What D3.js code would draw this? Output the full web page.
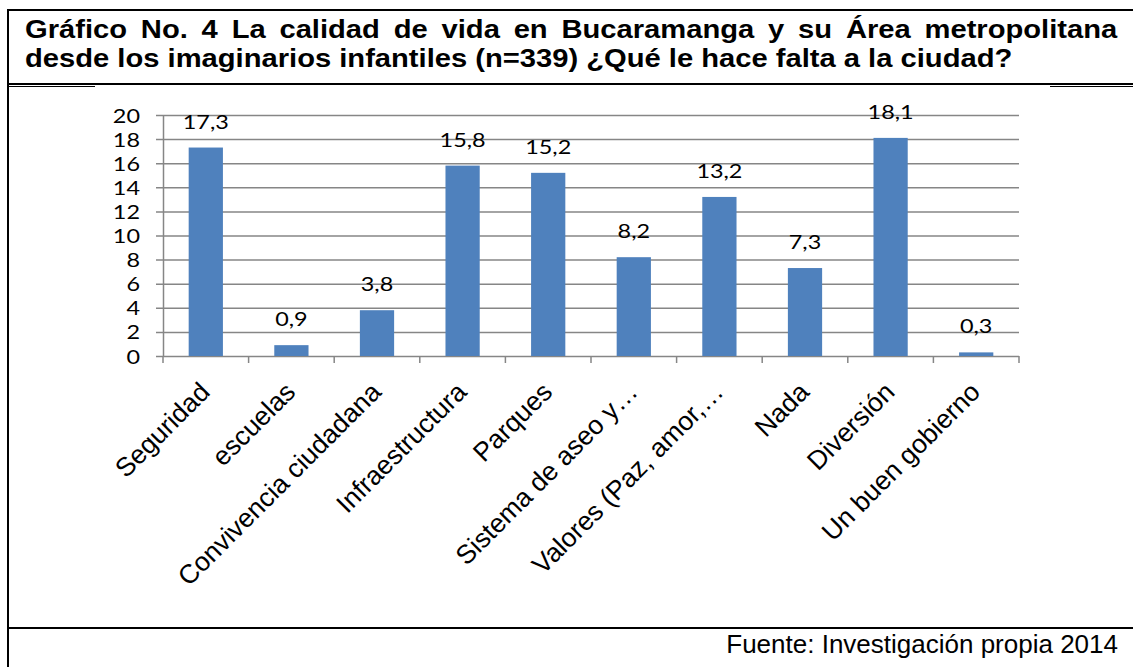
<!DOCTYPE html>
<html>
<head>
<meta charset="utf-8">
<script src="https://cdn.jsdelivr.net/npm/d3@7"></script>
<style>
  body { margin: 0; background: #fff; }
  svg { display: block; }
</style>
</head>
<body>
<div id="chart"></div>
<script>
// DATA
const categories = [
  "Seguridad", "escuelas", "Convivencia ciudadana", "Infraestructura", "Parques",
  "Sistema de aseo y…", "Valores (Paz, amor,…", "Nada", "Diversión", "Un buen gobierno"
];
const values = [17.3, 0.9, 3.8, 15.8, 15.2, 8.2, 13.2, 7.3, 18.1, 0.3];
const yTicks = [0, 2, 4, 6, 8, 10, 12, 14, 16, 18, 20];
const titleLines = [
  "Gráfico No. 4 La calidad de vida en Bucaramanga y su Área metropolitana",
  "desde los imaginarios infantiles (n=339) ¿Qué le hace falta a la ciudad?"
];
const sourceText = "Fuente: Investigación propia 2014";

// LAYOUT
const width = 1133, height = 667;
const plot = { left: 163, right: 1019, top: 115, bottom: 356 };
const numStretch = 1.2; // digits in the picture are wider than tall
const barColor = "#4F81BD", gridColor = "#868686";

const svg = d3.select("#chart").append("svg")
  .attr("width", width)
  .attr("height", height);

svg.append("rect").attr("width", width).attr("height", height).attr("fill", "#fff");

// frame lines
const frame = svg.append("g").attr("stroke", "#000");
frame.append("line").attr("x1", 8).attr("x2", width).attr("y1", 10).attr("y2", 10).attr("stroke-width", 2);
frame.append("line").attr("x1", 8).attr("x2", width).attr("y1", 84).attr("y2", 84).attr("stroke-width", 2);
frame.append("line").attr("x1", 8).attr("x2", 95).attr("y1", 86.5).attr("y2", 86.5).attr("stroke-width", 1);
frame.append("line").attr("x1", 1050).attr("x2", width).attr("y1", 86.5).attr("y2", 86.5).attr("stroke-width", 1);
frame.append("line").attr("x1", 8).attr("x2", width).attr("y1", 628).attr("y2", 628).attr("stroke-width", 2);
frame.append("line").attr("x1", 8).attr("x2", 8).attr("y1", 9).attr("y2", height).attr("stroke-width", 2);

// TITLE (justified first line, both stretched like the picture)
const titleLeft = 25, line1Right = 1118, line2Right = 1013;
const titleG = svg.append("g")
  .attr("font-family", "'Liberation Sans', Arial, sans-serif")
  .attr("font-weight", "bold")
  .attr("font-size", 26)
  .attr("fill", "#000");

const t2 = titleG.append("text").attr("x", 0).attr("y", 0).text(titleLines[1]);
const w2 = t2.node().getComputedTextLength();
const sx = (line2Right - titleLeft) / w2;
t2.attr("transform", `translate(${titleLeft},67) scale(${sx},1)`);

const t1 = titleG.append("text").attr("x", 0).attr("y", 0).text(titleLines[0]);
const w1 = t1.node().getComputedTextLength();
const gaps = titleLines[0].split(" ").length - 1;
const extra = ((line1Right - titleLeft) / sx - w1) / gaps;
t1.attr("word-spacing", extra)
  .attr("transform", `translate(${titleLeft},38) scale(${sx},1)`);

// SCALES
const xScale = d3.scaleBand()
  .domain(categories)
  .range([plot.left, plot.right])
  .paddingInner(0)
  .paddingOuter(0);

const yScale = d3.scaleLinear()
  .domain([0, 20])
  .range([plot.bottom, plot.top]);

const barW = xScale.step() / 2.5;

// Y AXIS with gridlines
const yAxis = d3.axisLeft(yScale).tickValues(yTicks).tickSize(7).tickSizeOuter(0).tickPadding(0);
const yG = svg.append("g")
  .attr("transform", `translate(${plot.left},0)`)
  .call(yAxis);
yG.select(".domain").attr("stroke", gridColor).attr("stroke-width", 1.5);
yG.selectAll(".tick line")
  .attr("stroke", gridColor)
  .attr("stroke-width", 1.5)
  .attr("x1", -7)
  .attr("x2", plot.right - plot.left);
yG.selectAll(".tick text")
  .attr("x", 0)
  .attr("dy", "0.36em")
  .attr("transform", `translate(-23,0) scale(${numStretch},1)`)
  .attr("font-family", "Lato, 'Open Sans', sans-serif")
  .attr("font-size", 19.5)
  .attr("fill", "#000")
  .attr("text-anchor", "end");

// category separators on the x axis
const bounds = categories.map(c => xScale(c)).concat([plot.right]);
svg.append("g")
  .selectAll("line")
  .data(bounds)
  .join("line")
  .attr("x1", d => d)
  .attr("x2", d => d)
  .attr("y1", plot.bottom)
  .attr("y2", plot.bottom + 7)
  .attr("stroke", gridColor)
  .attr("stroke-width", 1.5);

// BARS
svg.append("g")
  .selectAll("rect")
  .data(values)
  .join("rect")
  .attr("x", (d, i) => xScale(categories[i]) + (xScale.step() - barW) / 2)
  .attr("y", d => yScale(d))
  .attr("width", barW)
  .attr("height", d => yScale(0) - yScale(d))
  .attr("fill", barColor);

// VALUE LABELS
svg.append("g")
  .selectAll("text")
  .data(values)
  .join("text")
  .attr("transform", (d, i) =>
    `translate(${xScale(categories[i]) + xScale.step() / 2},${yScale(d) - 19}) scale(${numStretch},1)`)
  .attr("text-anchor", "middle")
  .attr("font-family", "Lato, 'Open Sans', sans-serif")
  .attr("font-size", 19.5)
  .attr("fill", "#000")
  .text(d => d.toFixed(1).replace(".", ","));

// CATEGORY LABELS (rotated)
svg.append("g")
  .selectAll("text")
  .data(categories)
  .join("text")
  .attr("transform", d =>
    `translate(${xScale(d) + xScale.step() / 2 - 1},387) rotate(-45)`)
  .attr("text-anchor", "end")
  .attr("dy", "0.35em")
  .attr("font-family", "'Liberation Sans', Arial, sans-serif")
  .attr("font-size", 26.5)
  .attr("fill", "#000")
  .text(d => d);

// SOURCE
svg.append("text")
  .attr("x", 1118)
  .attr("y", 653)
  .attr("text-anchor", "end")
  .attr("font-family", "'Liberation Sans', Arial, sans-serif")
  .attr("font-size", 26)
  .attr("fill", "#000")
  .text(sourceText);
</script>
</body>
</html>
